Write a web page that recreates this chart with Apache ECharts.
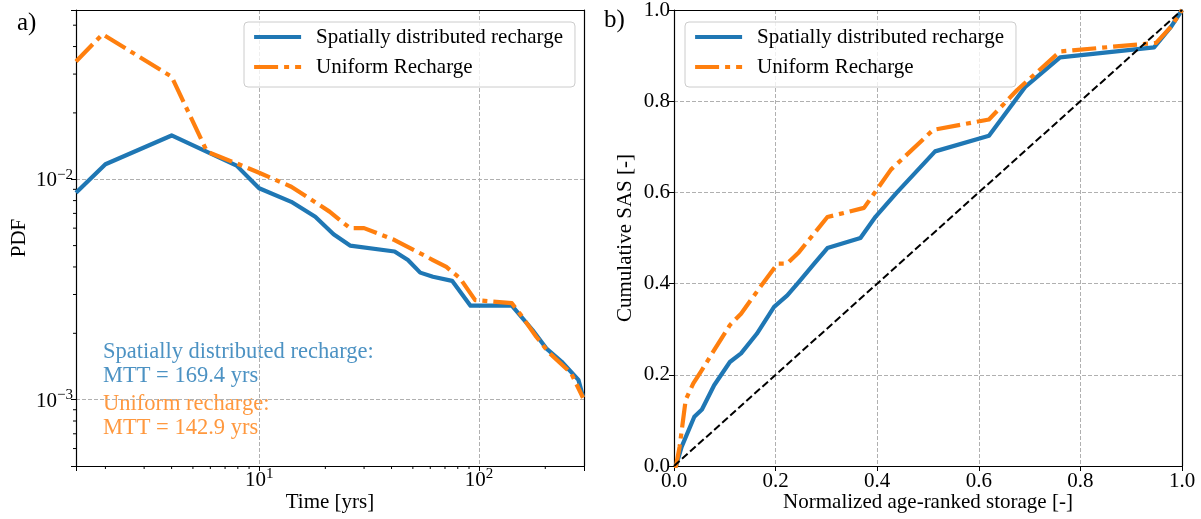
<!DOCTYPE html>
<html>
<head>
<meta charset="utf-8">
<script src="https://cdn.jsdelivr.net/npm/echarts@6/dist/echarts.min.js"></script>
<style>html,body{margin:0;padding:0;background:#fff}#c{width:1201px;height:519px}</style>
</head>
<body>
<div id="c"></div>
<script>
// ---- Panel a) PDF of travel times (log-log) ----
const timeSpatial = [1.47, 2.0, 4.0, 7.9, 10, 14, 18, 21.8, 25.9, 41.3, 47.5, 54, 61.7, 75.4, 91.4, 141, 175, 202, 237, 283, 297];
const pdfSpatial  = [0.00869, 0.0117, 0.0158, 0.01153, 0.0091, 0.0079, 0.00676, 0.00563, 0.0050, 0.0047, 0.0043, 0.00377, 0.00361, 0.00346, 0.00267, 0.00267, 0.00207, 0.00171, 0.00149, 0.00123, 0.00103];
const timeUniform = [1.47, 1.94, 4.0, 5.8, 7.9, 10, 14, 20.9, 25.9, 30, 41.3, 61.7, 71, 81.8, 96, 141, 155, 182, 206, 262, 297];
const pdfUniform  = [0.0342, 0.0455, 0.0292, 0.01333, 0.0118, 0.0107, 0.00925, 0.00713, 0.0060, 0.0060, 0.0053, 0.0043, 0.0040, 0.00356, 0.00283, 0.00274, 0.00242, 0.00193, 0.00165, 0.00132, 0.00102];
const xMinorTicks = [2, 3, 4, 5, 6, 7, 8, 9, 20, 30, 40, 50, 60, 70, 80, 90, 200];
const yMinorTicks = [0.0006, 0.0007, 0.0008, 0.0009, 0.002, 0.003, 0.004, 0.005, 0.006, 0.007, 0.008, 0.009, 0.02, 0.03, 0.04, 0.05];

// ---- Panel b) cumulative SAS ----
const storageSpatial = [0, 0.004, 0.015, 0.040, 0.055, 0.079, 0.110, 0.132, 0.163, 0.197, 0.223, 0.246, 0.276, 0.302, 0.367, 0.397, 0.438, 0.514, 0.62, 0.692, 0.76, 0.945, 0.979, 1.0];
const sasSpatial     = [0, 0, 0.042, 0.108, 0.124, 0.177, 0.228, 0.247, 0.29, 0.349, 0.374, 0.404, 0.444, 0.478, 0.50, 0.547, 0.599, 0.69, 0.724, 0.832, 0.896, 0.918, 0.964, 1.0];
const storageUniform = [0, 0.004, 0.011, 0.023, 0.038, 0.053, 0.079, 0.110, 0.132, 0.170, 0.204, 0.223, 0.246, 0.302, 0.374, 0.427, 0.51, 0.62, 0.676, 0.76, 0.949, 0.979, 1.0];
const sasUniform     = [0, 0, 0.042, 0.145, 0.181, 0.207, 0.254, 0.309, 0.334, 0.393, 0.444, 0.444, 0.469, 0.546, 0.566, 0.65, 0.737, 0.76, 0.825, 0.909, 0.928, 0.964, 1.0];
const diagX = [0, 1];
const diagY = [0, 1];

const seriesNames = ['Spatially distributed recharge', 'Uniform Recharge'];
const annotSpatial = ['Spatially distributed recharge:', 'MTT = 169.4 yrs'];
const annotUniform = ['Uniform recharge:', 'MTT = 142.9 yrs'];

const FONT = "'Liberation Serif', 'DejaVu Serif', serif";
const BLUE = '#1f77b4', ORANGE = '#ff7f0e';
const zip = (a, b) => a.map((v, i) => [v, b[i]]);

const gridLine = { show: true, lineStyle: { color: '#b0b0b0', width: 1, type: [4, 2] } };
const axLine = { show: true, onZero: false, lineStyle: { color: '#000', width: 1.2 } };
const axTick = { show: true, length: 5, lineStyle: { color: '#000', width: 1 } };

function logLabel(v) {
  const l = Math.log10(v), e = Math.round(l);
  if (Math.abs(l - e) > 1e-6) return '';
  return '{b|10}{s|' + (e < 0 ? '\u2212' + (-e) : String(e)) + '}';
}
const logRich = {
  b: { fontFamily: FONT, fontSize: 21, color: '#000', lineHeight: 24, verticalAlign: 'bottom' },
  s: { fontFamily: FONT, fontSize: 15, color: '#000', lineHeight: 14, verticalAlign: 'top' }
};
const nameStyle = { fontFamily: FONT, fontSize: 21, color: '#000' };
const legendCommon = {
  orient: 'vertical', itemWidth: 47, itemHeight: 14, itemGap: 6,
  padding: [3, 12, 8, 8], backgroundColor: 'rgba(255,255,255,0.8)',
  borderColor: '#cccccc', borderWidth: 1, borderRadius: 4,
  itemStyle: { opacity: 0 },
  lineStyle: { width: 4.2 },
  textStyle: { fontFamily: FONT, fontSize: 21, color: '#000', lineHeight: 24, padding: [0, 0, 0, 10] },
  data: seriesNames
};
// frame (top / right spines) drawn by bare axes
const frameAxis = (gridIndex, position) => ({
  type: 'value', gridIndex, position, min: 0, max: 1, z: 3,
  axisLine: { show: true, onZero: false, lineStyle: { color: '#000', width: 1.2 } },
  axisTick: { show: false }, axisLabel: { show: false }, splitLine: { show: false }
});

const option = {
  animation: false,
  backgroundColor: '#fff',
  grid: [
    { left: 76, top: 10, width: 508, height: 456, outerBoundsMode: 'none', containLabel: false },
    { left: 674, top: 10, width: 508, height: 456, outerBoundsMode: 'none', containLabel: false }
  ],
  xAxis: [
    { type: 'log', gridIndex: 0, logBase: 10, min: 1.47, max: 300, z: 2,
      axisLine: axLine, axisTick: axTick, splitLine: gridLine,
      axisLabel: { formatter: logLabel, rich: logRich, margin: 1 },
      name: 'Time [yrs]', nameLocation: 'middle', nameGap: 26, nameMoveOverlap: false, nameTextStyle: nameStyle },
    { type: 'value', gridIndex: 1, min: 0, max: 1, interval: 0.2, z: 2,
      axisLine: axLine, axisTick: axTick, splitLine: gridLine,
      axisLabel: { fontFamily: FONT, fontSize: 21, color: '#000', lineHeight: 24, margin: 3, formatter: v => v.toFixed(1) },
      name: 'Normalized age-ranked storage [-]', nameLocation: 'middle', nameGap: 26, nameMoveOverlap: false, nameTextStyle: nameStyle },
    frameAxis(0, 'top'),
    frameAxis(1, 'top')
  ],
  yAxis: [
    { type: 'log', gridIndex: 0, logBase: 10, min: 0.0005, max: 0.0586, z: 2,
      axisLine: axLine, axisTick: axTick, splitLine: gridLine,
      axisLabel: { formatter: logLabel, rich: logRich, margin: 3 },
      name: 'PDF', nameLocation: 'middle', nameGap: 46, nameMoveOverlap: false, nameTextStyle: nameStyle },
    { type: 'value', gridIndex: 1, min: 0, max: 1, interval: 0.2, z: 2,
      axisLine: axLine, axisTick: axTick, splitLine: gridLine,
      axisLabel: { fontFamily: FONT, fontSize: 21, color: '#000', margin: 4, formatter: v => v.toFixed(1) },
      name: 'Cumulative SAS [-]', nameLocation: 'middle', nameGap: 38, nameMoveOverlap: false, nameTextStyle: nameStyle },
    frameAxis(0, 'right'),
    frameAxis(1, 'right')
  ],
  legend: [
    Object.assign({ left: 244, top: 22 }, legendCommon),
    Object.assign({ left: 685, top: 22 }, legendCommon)
  ],
  graphic: [
    { type: 'text', left: 17, top: 11, style: { text: 'a)', font: '25px ' + FONT, fill: '#000' } },
    { type: 'text', left: 604, top: 8, style: { text: 'b)', font: '25px ' + FONT, fill: '#000' } },
    { type: 'text', left: 103, top: 340, style: { text: annotSpatial.join('\n'), font: '22.5px ' + FONT, lineHeight: 24, fill: '#4c92c3' } },
    { type: 'text', left: 103, top: 392, style: { text: annotUniform.join('\n'), font: '22.5px ' + FONT, lineHeight: 24, fill: '#ff983e' } }
  ],
  series: [
    { name: seriesNames[0], type: 'line', xAxisIndex: 0, yAxisIndex: 0, data: zip(timeSpatial, pdfSpatial),
      showSymbol: false, symbol: 'none', color: BLUE, z: 3,
      lineStyle: { color: BLUE, width: 4.2, join: 'round', cap: 'butt' } },
    { name: seriesNames[1], type: 'line', xAxisIndex: 0, yAxisIndex: 0, data: zip(timeUniform, pdfUniform),
      showSymbol: false, symbol: 'none', color: ORANGE, z: 4,
      lineStyle: { color: ORANGE, width: 4.2, type: [24, 6, 5, 6], join: 'round', cap: 'butt' } },
    { name: seriesNames[0], type: 'line', xAxisIndex: 1, yAxisIndex: 1, data: zip(storageSpatial, sasSpatial),
      showSymbol: false, symbol: 'none', color: BLUE, z: 3,
      lineStyle: { color: BLUE, width: 4.2, join: 'round', cap: 'butt' } },
    { name: seriesNames[1], type: 'line', xAxisIndex: 1, yAxisIndex: 1, data: zip(storageUniform, sasUniform),
      showSymbol: false, symbol: 'none', color: ORANGE, z: 4,
      lineStyle: { color: ORANGE, width: 4.2, type: [24, 6, 5, 6], join: 'round', cap: 'butt' } },
    { name: '1:1', type: 'line', xAxisIndex: 1, yAxisIndex: 1, data: zip(diagX, diagY),
      showSymbol: false, symbol: 'none', color: '#000', z: 5,
      lineStyle: { color: '#000', width: 2, type: [7.5, 3.3] } },
    { type: 'custom', xAxisIndex: 0, yAxisIndex: 0, silent: true, z: 6, clip: false,
      data: xMinorTicks.map(v => [v, 0.01]),
      renderItem: (params, api) => {
        const p = api.coord([api.value(0), api.value(1)]);
        const yb = params.coordSys.y + params.coordSys.height;
        return { type: 'line', shape: { x1: p[0], y1: yb, x2: p[0], y2: yb + 3 }, style: { stroke: '#000', lineWidth: 1 } };
      } },
    { type: 'custom', xAxisIndex: 0, yAxisIndex: 0, silent: true, z: 6, clip: false,
      data: yMinorTicks.map(v => [10, v]),
      renderItem: (params, api) => {
        const p = api.coord([api.value(0), api.value(1)]);
        const xl = params.coordSys.x;
        return { type: 'line', shape: { x1: xl, y1: p[1], x2: xl - 3, y2: p[1] }, style: { stroke: '#000', lineWidth: 1 } };
      } }
  ]
};
const chart = echarts.init(document.getElementById('c'), null, { renderer: 'canvas' });
chart.setOption(option);
</script>
</body>
</html>
